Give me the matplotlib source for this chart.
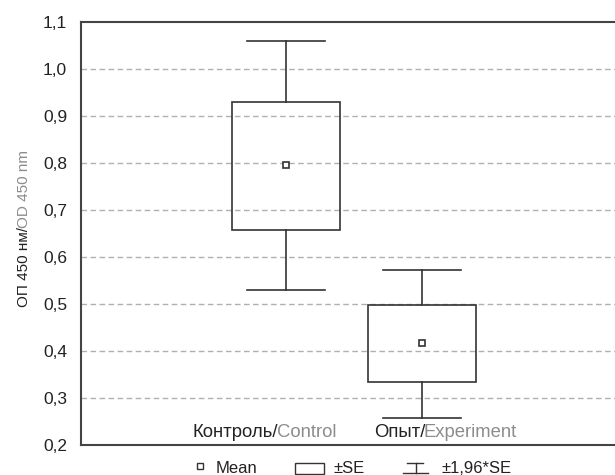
import matplotlib.pyplot as plt
from matplotlib.patches import Rectangle
from matplotlib.lines import Line2D

plt.rcParams['font.family'] = ['Liberation Sans', 'DejaVu Sans']

groups_ru = ['Контроль', 'Опыт']
groups_en = ['Control', 'Experiment']
means = [0.795, 0.417]
se_hi = [0.93, 0.497]
se_lo = [0.658, 0.335]
ci_hi = [1.06, 0.572]
ci_lo = [0.53, 0.257]
yticks = [0.2, 0.3, 0.4, 0.5, 0.6, 0.7, 0.8, 0.9, 1.0, 1.1]

dark = '#333333'
txt = '#222222'
grey = '#8c8c8c'
W, H = 615, 475

fig = plt.figure(figsize=(6.15, 4.75), dpi=100)
ax = fig.add_axes([81 / W, 30 / H, 534 / W, 423 / H])

ax.set_xlim(-0.507, 3.419)
ax.set_ylim(0.2, 1.1)
ax.set_yticks(yticks)
ax.set_yticklabels([f'{v:.1f}'.replace('.', ',') for v in yticks], fontsize=12.5, color=txt)
ax.tick_params(axis='y', length=0, pad=10)
ax.set_xticks([])
for v in yticks[1:-1]:
    ax.axhline(v, color='#b0b0b0', lw=1, ls=(0, (4, 2.5)), zorder=0)

ax.spines['right'].set_visible(False)
for s in ['left', 'bottom', 'top']:
    ax.spines[s].set_color('#444444')
    ax.spines[s].set_linewidth(1.5)

w = 0.8
cap = 0.575
for i in range(len(means)):
    x = i + 1
    ax.add_patch(Rectangle((x - w / 2, se_lo[i]), w, se_hi[i] - se_lo[i],
                           fill=False, ec=dark, lw=1.2, zorder=3))
    ax.plot([x, x], [se_hi[i], ci_hi[i]], color=dark, lw=1.2)
    ax.plot([x, x], [se_lo[i], ci_lo[i]], color=dark, lw=1.2)
    ax.plot([x - cap / 2, x + cap / 2], [ci_hi[i], ci_hi[i]], color=dark, lw=1.2)
    ax.plot([x - cap / 2, x + cap / 2], [ci_lo[i], ci_lo[i]], color=dark, lw=1.2)
    ax.plot(x, means[i], 's', ms=5, mfc='white', mec=dark, mew=1.2, zorder=4)

r = fig.canvas.get_renderer()


def two_colour(x, y, first, second, size, rot=0):
    # black part first, grey part right after it
    kw = dict(fontsize=size, rotation=rot, rotation_mode='anchor', ha='left', va='baseline')
    t = fig.text(x / W, 1 - y / H, first, color=txt, **kw)
    bb = t.get_window_extent(r)
    if rot == 0:
        fig.text((bb.x1 - 1.5) / W, 1 - y / H, second, color=grey, **kw)
    else:
        fig.text(x / W, (bb.y1 - 1.5) / H, second, color=grey, **kw)


label_x = [193, 374]
for i in range(len(groups_ru)):
    two_colour(label_x[i], 437, groups_ru[i] + '/', groups_en[i], 13.3)

two_colour(28, 307, 'ОП 450 нм/', 'OD 450 nm', 11, rot=90)

# legend drawn by hand
base = 1 - 473 / H
fig.add_artist(Line2D([200.5 / W], [1 - 466 / H], marker='s', ms=5, mfc='white',
                      mec=dark, mew=1, transform=fig.transFigure))
fig.text(216 / W, base, 'Mean', fontsize=12, color=txt, va='baseline')
fig.add_artist(Rectangle((295 / W, 1 - 474 / H), 29 / W, 11 / H, fill=False,
                         ec=dark, lw=1, transform=fig.transFigure))
fig.text(333 / W, base, '±SE', fontsize=12, color=txt, va='baseline')
fig.add_artist(Line2D([403 / W, 428 / W], [1 - 473 / H] * 2, color=dark, lw=1,
                      transform=fig.transFigure))
fig.add_artist(Line2D([407 / W, 423 / W], [1 - 463 / H] * 2, color=dark, lw=1,
                      transform=fig.transFigure))
fig.add_artist(Line2D([415.5 / W] * 2, [1 - 473 / H, 1 - 463 / H], color=dark,
                      lw=1, transform=fig.transFigure))
fig.text(441 / W, base, '±1,96*SE', fontsize=12, color=txt, va='baseline')

fig.savefig('out.png', dpi=100)
